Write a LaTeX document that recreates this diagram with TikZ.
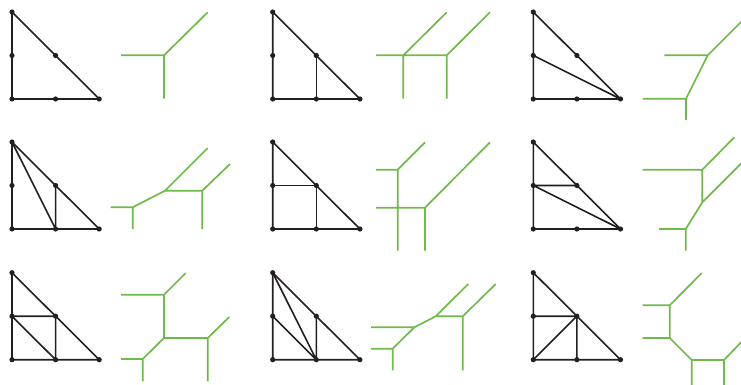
\documentclass[tikz,border=0pt]{standalone}
\definecolor{trop}{RGB}{112,186,76}
\definecolor{ink}{RGB}{35,31,32}
\newcommand\mklat[3]{%
  \foreach \i in {0,1,2}{\foreach \j in {0,1,2}{%
    \pgfmathtruncatemacro\s{\i+\j}%
    \ifnum\s<3 \coordinate (#1\i\j) at ({#2+\i*43.6},{#3+87-\j*43.5}); \fi}}}
\newcommand\dotlat[1]{%
  \foreach \i in {0,1,2}{\foreach \j in {0,1,2}{%
    \pgfmathtruncatemacro\s{\i+\j}%
    \ifnum\s<3 \fill[ink] (#1\i\j) circle (2.6); \fi}}}
\begin{document}
\begin{tikzpicture}[x=1pt,y=-1pt,
  edge/.style={draw=ink,line width=1.6pt,line join=round},
  curve/.style={draw=trop,line width=1.7pt,line join=miter}]
\useasboundingbox (0,0) rectangle (741,385);
\clip (0,0) rectangle (741,385);
\mklat{A}{12}{12}
\mklat{B}{272.7}{12}
\mklat{C}{533.3}{12}
\mklat{D}{12}{142}
\mklat{E}{272.7}{142}
\mklat{F}{533.3}{142}
\mklat{G}{12}{272.7}
\mklat{H}{272.7}{272.7}
\mklat{I}{533.3}{272.7}
% triangles
\foreach \p in {A,B,C,D,E,F,G,H,I}{\path[edge] (\p00) -- (\p20) -- (\p02) -- cycle;}
\path[edge] (B11) -- (B10);
\path[edge] (C01) -- (C20);
\path[edge] (D02) -- (D10) (D11) -- (D10);
\path[edge] (E01) -- (E11) -- (E10);
\path[edge] (F01) -- (F11) (F01) -- (F20);
\path[edge] (G01) -- (G11) -- (G10) (G01) -- (G10);
\path[edge] (H02) -- (H10) (H01) -- (H10) (H11) -- (H10);
\path[edge] (I01) -- (I11) -- (I10) (I00) -- (I11);
\foreach \p in {A,B,C,D,E,F,G,H,I}{\dotlat{\p}}
% tropical curves
\path[curve] (121,55.3) -- (164,55.3) -- (207.7,12.3) (164,55.3) -- (164,98.7);
\path[curve] (376,55.3) -- (446.7,55.3) (403.3,55.3) -- (403.3,98.7) (446.7,55.3) -- (446.7,98.7)
  (403.3,55.3) -- (446.7,12.3) (446.7,55.3) -- (490,12.3);
\path[curve] (664.3,55.3) -- (707.7,55.3) -- (742,21) (707.7,55.3) -- (686,98.7)
  (642.7,98.7) -- (686,98.7) -- (686,120);
\path[curve] (110.7,207.3) -- (132.7,207.3) -- (132.7,229) (132.7,207.3) -- (165,190.7) -- (202.3,190.7) -- (202.3,229)
  (165,190.7) -- (207.7,148) (202.3,190.7) -- (230,164);
\path[curve] (376,169.7) -- (397.7,169.7) -- (425,142.3) (397.7,169.7) -- (397.7,250.7)
  (376,207.7) -- (425,207.7) -- (425,250.7) (425,207.7) -- (490,142.3);
\path[curve] (642.7,169.7) -- (702.3,169.7) -- (734.3,137.3) (702.3,169.7) -- (702.3,202.3) -- (742,162.6)
  (702.3,202.3) -- (685.7,229) -- (685.7,250.7) (659,229) -- (685.7,229);
\path[curve] (121,294.7) -- (164,294.7) -- (185.7,273) (164,294.7) -- (164,338) -- (207.7,338) -- (229.3,317)
  (207.7,338) -- (207.7,381.3) (164,338) -- (142.7,359) -- (142.7,381.3) (121,359) -- (142.7,359);
\path[curve] (371,327.3) -- (414.3,327.3) (371,348.7) -- (392.7,348.7) -- (392.7,370.3)
  (392.7,348.7) -- (414.3,327.3) -- (435.7,316.3) -- (462.7,316.3) -- (462.7,370.3)
  (435.7,316.3) -- (468.3,284) (462.7,316.3) -- (495.7,284);
\path[curve] (642.7,305.3) -- (669.7,305.3) -- (701.7,273) (669.7,305.3) -- (669.7,338) -- (642.7,338)
  (669.7,338) -- (691.7,360) -- (724,360) -- (742,341.3) (691.7,360) -- (691.7,386) (724,360) -- (724,386);
\end{tikzpicture}
\end{document}
